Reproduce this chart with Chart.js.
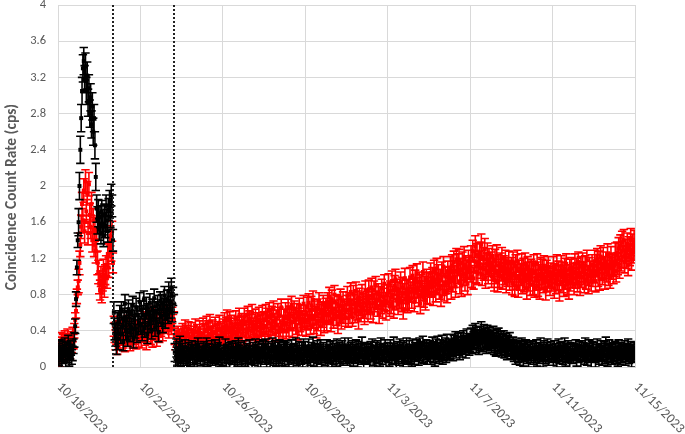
<!DOCTYPE html>
<html><head><meta charset="utf-8">
<script src="https://cdn.jsdelivr.net/npm/chart.js@4.4.0/dist/chart.umd.min.js"></script>
<style>html,body{margin:0;padding:0;background:#fff;}canvas{display:block;}</style>
</head><body>
<canvas id="c" width="685" height="434"></canvas>
<script>
// ---- data (hourly samples starting 10/18/2023 00:00) ----
const startLabel = '10/18/2023';
const hoursPerSample = 1;
const xTickDays = [0, 4, 8, 12, 16, 20, 24, 28];
const xTickLabels = ['10/18/2023','10/22/2023','10/26/2023','10/30/2023','11/3/2023','11/7/2023','11/11/2023','11/15/2023'];
const yTickValues = [0, 0.4, 0.8, 1.2, 1.6, 2, 2.4, 2.8, 3.2, 3.6, 4];
const yTickLabels = ['0','0.4','0.8','1.2','1.6','2','2.4','2.8','3.2','3.6','4'];
const yTitle = 'Coincidence Count Rate (cps)';
const eventDays = [2.68, 5.63];

const blackRate = [
0.18,0.10,0.22,0.14,0.08,0.20,0.12,0.16,0.24,0.06,0.19,0.13,0.27,0.09,0.17,0.21,0.11,0.15,0.23,0.30,0.45,0.75,1.10,1.40,
1.60,2.00,2.40,2.75,3.05,3.30,3.38,3.18,3.32,3.05,3.22,2.92,3.08,2.80,2.98,2.68,2.88,2.60,2.75,2.45,2.10,1.75,1.62,1.70,
1.52,1.66,1.48,1.72,1.58,1.45,1.68,1.55,1.78,1.62,1.50,1.74,1.83,1.66,1.90,1.78,1.40,0.60,0.42,0.35,0.26,0.48,0.31,0.50,
0.58,0.36,0.62,0.45,0.28,0.55,0.70,0.40,0.52,0.33,0.64,0.47,0.38,0.60,0.44,0.68,0.31,0.53,0.42,0.66,0.37,0.57,0.49,0.72,
0.46,0.63,0.39,0.58,0.74,0.43,0.55,0.67,0.36,0.60,0.48,0.71,0.52,0.41,0.65,0.57,0.76,0.44,0.62,0.50,0.69,0.38,0.59,0.73,
0.55,0.70,0.48,0.66,0.79,0.53,0.62,0.75,0.58,0.84,0.64,0.72,0.88,0.60,0.78,0.70,0.16,0.09,0.21,0.12,0.06,0.18,0.24,0.11,
0.12,0.18,0.07,0.15,0.22,0.10,0.14,0.05,0.19,0.13,0.09,0.17,0.21,0.11,0.16,0.04,0.20,0.12,0.08,0.24,0.14,0.18,0.10,0.15,
0.15,0.08,0.20,0.11,0.16,0.24,0.09,0.13,0.18,0.06,0.14,0.21,0.10,0.17,0.12,0.22,0.07,0.15,0.19,0.11,0.25,0.13,0.09,0.16,
0.10,0.16,0.13,0.23,0.08,0.17,0.12,0.19,0.04,0.15,0.20,0.11,0.18,0.14,0.06,0.21,0.13,0.09,0.24,0.16,0.11,0.19,0.07,0.14,
0.14,0.21,0.09,0.12,0.18,0.07,0.16,0.22,0.11,0.13,0.06,0.19,0.15,0.10,0.23,0.12,0.17,0.08,0.20,0.14,0.05,0.18,0.13,0.22,
0.17,0.11,0.23,0.08,0.15,0.20,0.13,0.05,0.18,0.12,0.24,0.10,0.16,0.21,0.09,0.14,0.19,0.07,0.22,0.12,0.17,0.10,0.15,0.20,
0.09,0.19,0.14,0.21,0.11,0.06,0.17,0.13,0.22,0.15,0.08,0.18,0.12,0.24,0.10,0.16,0.05,0.20,0.14,0.11,0.19,0.08,0.23,0.13,
0.20,0.12,0.16,0.07,0.23,0.14,0.10,0.19,0.13,0.25,0.09,0.15,0.18,0.06,0.21,0.12,0.17,0.11,0.22,0.08,0.15,0.19,0.13,0.10,
0.13,0.22,0.08,0.17,0.12,0.20,0.15,0.06,0.21,0.11,0.18,0.14,0.09,0.23,0.16,0.12,0.19,0.05,0.17,0.21,0.10,0.14,0.24,0.12,
0.16,0.10,0.24,0.13,0.07,0.19,0.14,0.21,0.09,0.17,0.12,0.22,0.15,0.08,0.20,0.13,0.18,0.11,0.25,0.14,0.06,0.19,0.12,0.17,
0.11,0.18,0.14,0.06,0.20,0.15,0.23,0.10,0.16,0.08,0.19,0.13,0.21,0.12,0.17,0.09,0.24,0.14,0.11,0.18,0.15,0.22,0.07,0.16,
0.19,0.13,0.09,0.22,0.15,0.11,0.18,0.25,0.12,0.16,0.07,0.20,0.14,0.10,0.23,0.17,0.12,0.19,0.08,0.21,0.15,0.13,0.24,0.11,
0.14,0.21,0.12,0.17,0.09,0.23,0.16,0.11,0.19,0.14,0.22,0.18,0.10,0.24,0.15,0.20,0.13,0.26,0.12,0.19,0.16,0.22,0.11,0.18,
0.15,0.20,0.12,0.18,0.24,0.14,0.19,0.10,0.22,0.17,0.25,0.15,0.13,0.21,0.18,0.26,0.12,0.20,0.16,0.23,0.14,0.27,0.19,0.17,
0.22,0.18,0.27,0.21,0.16,0.26,0.23,0.30,0.19,0.25,0.28,0.22,0.17,0.29,0.24,0.20,0.31,0.23,0.26,0.19,0.33,0.25,0.28,0.22,
0.27,0.33,0.25,0.36,0.29,0.31,0.38,0.26,0.34,0.30,0.24,0.35,0.28,0.40,0.31,0.27,0.37,0.29,0.33,0.25,0.36,0.30,0.34,0.28,
0.32,0.26,0.30,0.35,0.24,0.28,0.22,0.31,0.25,0.33,0.27,0.23,0.29,0.21,0.26,0.30,0.20,0.27,0.24,0.18,0.25,0.22,0.28,0.19,
0.21,0.17,0.24,0.15,0.19,0.12,0.22,0.18,0.14,0.20,0.11,0.17,0.23,0.15,0.10,0.19,0.16,0.21,0.13,0.18,0.09,0.16,0.20,0.14,
0.15,0.20,0.11,0.18,0.13,0.22,0.09,0.16,0.19,0.12,0.24,0.14,0.17,0.08,0.21,0.15,0.12,0.19,0.23,0.10,0.16,0.14,0.20,0.13,
0.17,0.10,0.21,0.13,0.18,0.08,0.15,0.23,0.12,0.19,0.14,0.20,0.11,0.16,0.24,0.09,0.18,0.13,0.21,0.15,0.07,0.19,0.12,0.17,
0.12,0.18,0.15,0.22,0.09,0.17,0.13,0.20,0.16,0.07,0.21,0.14,0.19,0.11,0.24,0.15,0.10,0.18,0.13,0.22,0.16,0.08,0.20,0.14,
0.19,0.13,0.08,0.17,0.23,0.14,0.11,0.18,0.15,0.21,0.10,0.16,0.20,0.12,0.25,0.14,0.09,0.18,0.22,0.13,0.17,0.11,0.19,0.15,
0.14,0.20,0.12,0.18,0.09,0.22,0.15,0.11,0.19,0.13,0.17,0.16,0.21,0.10,0.18,0.14,0.23,0.12,0.16,0.20,0.08,0.17,0.13,0.19,
0.14
];

const redRate = [
0.12,0.20,0.08,0.25,0.30,0.18,0.28,0.22,0.32,0.15,0.26,0.34,0.21,0.29,0.17,0.31,0.24,0.36,0.28,0.40,0.52,0.62,0.78,0.88,
0.95,1.15,1.35,1.55,1.80,1.62,1.95,1.50,2.05,1.72,1.92,1.48,2.02,1.68,1.55,1.80,1.40,1.62,1.35,1.52,1.28,1.40,1.15,1.05,
0.92,0.85,1.00,0.82,0.95,1.08,0.88,1.02,1.12,0.98,1.25,1.10,1.32,1.45,1.28,1.50,1.15,0.45,0.38,0.30,0.36,0.25,0.40,0.32,
0.28,0.40,0.33,0.45,0.30,0.38,0.26,0.42,0.35,0.48,0.32,0.39,0.27,0.44,0.36,0.30,0.41,0.34,0.47,0.29,0.38,0.43,0.31,0.37,
0.36,0.30,0.44,0.38,0.52,0.33,0.41,0.28,0.46,0.37,0.55,0.40,0.34,0.49,0.31,0.43,0.58,0.39,0.45,0.32,0.50,0.42,0.36,0.53,
0.43,0.50,0.38,0.58,0.46,0.52,0.60,0.48,0.55,0.41,0.63,0.50,0.45,0.57,0.49,0.52,0.34,0.28,0.31,0.26,0.36,0.24,0.33,0.29,
0.24,0.40,0.20,0.35,0.44,0.27,0.38,0.22,0.42,0.30,0.25,0.41,0.33,0.21,0.37,0.29,0.45,0.26,0.39,0.31,0.23,0.43,0.34,0.28,
0.30,0.46,0.26,0.40,0.23,0.48,0.34,0.43,0.27,0.50,0.37,0.29,0.44,0.32,0.25,0.47,0.38,0.31,0.42,0.28,0.49,0.35,0.40,0.33,
0.44,0.30,0.51,0.35,0.46,0.54,0.31,0.42,0.52,0.33,0.48,0.36,0.29,0.45,0.39,0.53,0.34,0.47,0.40,0.56,0.32,0.43,0.50,0.37,
0.47,0.56,0.34,0.50,0.38,0.58,0.41,0.53,0.33,0.49,0.60,0.39,0.45,0.36,0.55,0.42,0.51,0.31,0.57,0.44,0.48,0.37,0.59,0.43,
0.52,0.38,0.60,0.45,0.56,0.35,0.62,0.48,0.40,0.58,0.44,0.64,0.50,0.37,0.54,0.46,0.61,0.39,0.57,0.43,0.66,0.47,0.41,0.55,
0.47,0.62,0.40,0.55,0.66,0.43,0.58,0.49,0.69,0.42,0.57,0.64,0.51,0.45,0.61,0.39,0.56,0.67,0.48,0.60,0.44,0.53,0.70,0.50,
0.58,0.44,0.67,0.51,0.71,0.55,0.46,0.68,0.53,0.74,0.47,0.63,0.57,0.42,0.65,0.50,0.72,0.59,0.45,0.62,0.54,0.69,0.48,0.60,
0.66,0.50,0.72,0.57,0.78,0.60,0.49,0.75,0.62,0.53,0.80,0.64,0.56,0.70,0.47,0.68,0.59,0.76,0.52,0.65,0.73,0.58,0.63,0.55,
0.69,0.79,0.54,0.72,0.58,0.83,0.65,0.55,0.80,0.70,0.59,0.84,0.62,0.74,0.52,0.77,0.67,0.60,0.81,0.64,0.71,0.57,0.85,0.68,
0.73,0.60,0.86,0.70,0.63,0.88,0.76,0.59,0.85,0.71,0.90,0.74,0.66,0.82,0.58,0.79,0.69,0.87,0.64,0.77,0.92,0.72,0.62,0.81,
0.80,0.92,0.67,0.84,0.70,0.95,0.78,0.65,0.90,0.97,0.74,0.86,0.69,0.83,0.76,0.94,0.72,0.88,0.64,0.81,0.98,0.75,0.85,0.71,
0.86,0.73,0.99,0.83,0.76,1.01,0.87,0.72,0.96,0.82,1.03,0.88,0.78,0.94,0.70,0.91,0.84,1.05,0.77,0.89,0.74,0.97,0.81,0.93,
0.94,0.80,1.04,0.88,0.99,0.79,1.07,0.93,0.83,1.09,0.91,1.02,0.86,0.97,0.78,1.05,0.90,1.11,0.84,1.00,0.92,0.82,1.06,0.95,
0.98,1.10,0.87,1.12,0.95,1.16,1.00,0.89,1.19,1.04,1.13,1.18,0.93,1.08,0.90,1.15,1.02,1.21,0.96,1.11,1.06,0.92,1.17,1.09,
1.06,1.22,1.00,1.28,0.98,1.17,1.33,1.05,1.24,1.03,1.16,1.26,1.10,1.35,1.02,1.20,1.08,1.30,0.99,1.14,1.25,1.04,1.19,1.12,
1.15,1.00,1.22,1.08,0.96,1.18,1.04,1.23,0.95,1.12,1.00,1.14,1.07,1.20,0.98,1.11,1.03,1.17,0.94,1.09,1.01,1.16,0.97,1.06,
1.09,0.92,1.15,1.01,0.90,1.12,0.98,1.17,0.89,1.06,0.97,1.02,1.13,0.93,1.08,0.95,1.14,1.00,0.87,1.10,0.96,1.04,0.91,1.07,
1.06,0.91,1.13,0.88,1.05,0.96,1.14,0.89,1.02,0.86,1.10,0.97,1.08,0.93,1.12,0.99,0.85,1.07,0.94,1.11,1.00,0.90,1.04,0.95,
0.98,1.11,0.87,1.03,0.92,1.13,0.96,1.06,0.84,1.01,1.12,0.93,1.05,0.89,1.09,0.97,1.14,0.91,1.02,0.86,1.08,0.95,1.10,0.99,
1.04,0.91,1.14,0.98,1.09,0.94,1.16,1.02,0.90,1.11,0.99,1.15,1.05,0.93,1.12,0.97,1.18,1.01,0.92,1.10,1.06,0.95,1.13,1.00,
1.05,1.17,0.95,1.12,1.19,1.01,1.16,0.97,1.22,1.08,1.03,1.20,1.10,0.98,1.15,1.06,1.24,1.02,1.13,0.99,1.21,1.09,1.14,1.04,
1.12,1.25,1.06,1.26,1.14,1.31,1.10,1.34,1.18,1.38,1.22,1.40,1.16,1.29,1.21,1.36,1.13,1.32,1.24,1.41,1.19,1.35,1.27,1.39,
1.30
];

// one-sigma error per day (index = day number)
const blackErrByDay = [0.08,0.15,0.12,0.10,0.10,0.10,0.08,0.08,0.08,0.08,0.08,0.08,0.08,0.08,0.08,0.08,0.08,0.08,0.09,0.09,0.10,0.10,0.09,0.08,0.08,0.08,0.08,0.08,0.08];
const redErrByDay   = [0.08,0.13,0.11,0.09,0.09,0.09,0.08,0.08,0.09,0.09,0.09,0.09,0.10,0.10,0.10,0.10,0.11,0.11,0.11,0.12,0.12,0.12,0.12,0.11,0.11,0.11,0.12,0.12,0.12];

// ---- build ----
const FONT = "Carlito, 'Liberation Sans', Arial, sans-serif";
const TEXT = '#595959';
function toPoints(arr){ return arr.map((v,i)=>({x: i*hoursPerSample/24, y: v})); }
function toErr(arr, byDay){ return arr.map((v,i)=>byDay[Math.min(byDay.length-1, Math.floor(i*hoursPerSample/24))]); }
const errorSets = [toErr(blackRate, blackErrByDay), toErr(redRate, redErrByDay)];

const customPlugin = {
  id: 'custom',
  beforeDatasetDraw(chart, args) {
    const ds = chart.data.datasets[args.index];
    const errs = errorSets[args.index];
    const ys = chart.scales.y, ca = chart.chartArea, ctx = chart.ctx;
    ctx.save();
    ctx.beginPath(); ctx.rect(ca.left, ca.top, ca.right-ca.left, ca.bottom-ca.top); ctx.clip();
    ctx.strokeStyle = ds.borderColor; ctx.lineWidth = 1.6;
    ctx.beginPath();
    args.meta.data.forEach((pt, i) => {
      const v = ds.data[i].y, e = errs[i];
      const yt = ys.getPixelForValue(v + e), yb = ys.getPixelForValue(v - e);
      const x = pt.x, c = 4.2;
      ctx.moveTo(x, yt); ctx.lineTo(x, yb);
      ctx.moveTo(x - c, yt); ctx.lineTo(x + c, yt);
      ctx.moveTo(x - c, yb); ctx.lineTo(x + c, yb);
    });
    ctx.stroke();
    ctx.restore();
  },
  afterDatasetsDraw(chart) {
    const xs = chart.scales.x, ca = chart.chartArea, ctx = chart.ctx;
    ctx.save();
    ctx.strokeStyle = '#222'; ctx.lineWidth = 2; ctx.setLineDash([2, 2]);
    eventDays.forEach(d => {
      const x = Math.round(xs.getPixelForValue(d));
      ctx.beginPath(); ctx.moveTo(x, ca.top); ctx.lineTo(x, ca.bottom); ctx.stroke();
    });
    ctx.restore();
  },
  afterDraw(chart) {
    const xs = chart.scales.x, ys = chart.scales.y, ca = chart.chartArea, ctx = chart.ctx;
    ctx.save();
    ctx.fillStyle = TEXT;
    ctx.font = '12.5px ' + FONT;
    ctx.textAlign = 'right'; ctx.textBaseline = 'middle';
    yTickValues.forEach((v, i) => ctx.fillText(yTickLabels[i], ca.left - 12, ys.getPixelForValue(v)));
    ctx.font = '13.5px ' + FONT;
    xTickDays.forEach((d, i) => {
      const x = xs.getPixelForValue(d);
      ctx.save();
      ctx.translate(x + 1, ca.bottom + 18);
      ctx.rotate(Math.PI / 4);
      ctx.textAlign = 'left'; ctx.textBaseline = 'middle';
      ctx.fillText(xTickLabels[i], 0, 0);
      ctx.restore();
    });
    ctx.save();
    ctx.font = 'bold 15.5px ' + FONT;
    ctx.translate(12, 197);
    ctx.rotate(-Math.PI / 2);
    ctx.textAlign = 'center'; ctx.textBaseline = 'middle';
    ctx.fillText(yTitle, 0, 0);
    ctx.restore();
    ctx.restore();
  }
};

new Chart(document.getElementById('c'), {
  type: 'scatter',
  data: {
    datasets: [
      { label: 'black', data: toPoints(blackRate), borderColor: '#000000', backgroundColor: '#000000',
        pointStyle: 'rect', pointRadius: 2.8, pointBorderWidth: 0, showLine: false },
      { label: 'red', data: toPoints(redRate), borderColor: '#ff0000', backgroundColor: '#ff0000',
        pointStyle: 'rect', pointRadius: 2.8, pointBorderWidth: 0, showLine: false }
    ]
  },
  options: {
    responsive: false, animation: false, devicePixelRatio: 1,
    layout: { padding: { top: 5, right: 50, left: 0, bottom: 0 } },
    plugins: { legend: { display: false }, tooltip: { enabled: false } },
    scales: {
      x: { type: 'linear', min: 0, max: 28,
        afterBuildTicks: s => { s.ticks = xTickDays.map(v => ({ value: v })); },
        afterFit: s => { s.height = 67; },
        ticks: { display: false },
        grid: { color: '#d9d9d9', drawTicks: false, lineWidth: 1 },
        border: { color: '#d9d9d9' } },
      y: { type: 'linear', min: 0, max: 4,
        afterBuildTicks: s => { s.ticks = yTickValues.map(v => ({ value: v })); },
        afterFit: s => { s.width = 58; },
        ticks: { display: false },
        grid: { color: '#d9d9d9', drawTicks: false, lineWidth: 1 },
        border: { color: '#d9d9d9' } }
    }
  },
  plugins: [customPlugin]
});
</script>
</body></html>
